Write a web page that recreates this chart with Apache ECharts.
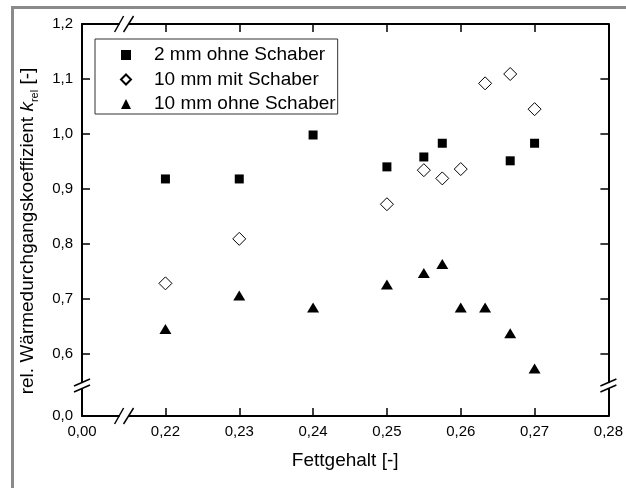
<!DOCTYPE html>
<html>
<head>
<meta charset="utf-8">
<script src="https://cdn.jsdelivr.net/npm/echarts@6/dist/echarts.min.js"></script>
<style>
  html, body { margin: 0; padding: 0; background: #fff; }
  #chart { width: 626px; height: 488px; }
</style>
</head>
<body>
<div id="chart"></div>
<script>
// broken axes: the lowest label (0,00 / 0,0) sits below the break
const XLOW = 0.2087, XBREAK = 0.2144;
const YLOW = 0.4866, YBREAK = 0.542;

const xTicks = [0.22, 0.23, 0.24, 0.25, 0.26, 0.27];
const xLabels = [XLOW, 0.22, 0.23, 0.24, 0.25, 0.26, 0.27, 0.28];
const yTicks = [0.6, 0.7, 0.8, 0.9, 1.0, 1.1];
const yLabels = [YLOW, 0.6, 0.7, 0.8, 0.9, 1.0, 1.1, 1.2];

const names = ['2 mm ohne Schaber', '10 mm mit Schaber', '10 mm ohne Schaber'];

const fett2ohne = [0.22, 0.23, 0.24, 0.25, 0.255, 0.2575, 0.2667, 0.27];
const k2ohne = [0.918, 0.918, 0.998, 0.940, 0.958, 0.983, 0.951, 0.983];

const fett10mit = [0.22, 0.23, 0.25, 0.255, 0.2575, 0.26, 0.2633, 0.2667, 0.27];
const k10mit = [0.728, 0.809, 0.872, 0.934, 0.919, 0.936, 1.092, 1.109, 1.045];

const fett10ohne = [0.22, 0.23, 0.24, 0.25, 0.255, 0.2575, 0.26, 0.2633, 0.2667, 0.27];
const k10ohne = [0.645, 0.706, 0.684, 0.726, 0.747, 0.763, 0.684, 0.684, 0.637, 0.573];

const FONT = 'Liberation Sans, Arial, sans-serif';

const zip = (xs, ys) => xs.map((x, i) => [x, ys[i]]);

function xLabel(v) {
    if (Math.abs(v - XLOW) < 1e-6) return '0,00';
    return v.toFixed(2).replace('.', ',');
}
function yLabel(v) {
    if (Math.abs(v - YLOW) < 1e-6) return '0,0';
    return v.toFixed(1).replace('.', ',');
}

function makeX(pos, showLabels) {
    return {
        type: 'value', position: pos, min: XLOW, max: 0.28,
        name: showLabels ? 'Fettgehalt [-]' : '',
        nameLocation: 'middle', nameGap: 35,
        nameTextStyle: { fontSize: 19, color: '#000', fontFamily: FONT },
        axisLine: { show: true, onZero: false, lineStyle: { color: '#000', width: 2 } },
        axisTick: { show: true, inside: true, length: 8, customValues: xTicks, lineStyle: { color: '#000', width: 1.5 } },
        axisLabel: { show: showLabels, customValues: xLabels, formatter: xLabel, margin: 8, fontSize: 15, color: '#000', fontFamily: FONT },
        splitLine: { show: false }
    };
}
function makeY(pos, showLabels) {
    return {
        type: 'value', position: pos, min: YLOW, max: 1.2,
        name: showLabels ? 'rel. Wärmedurchgangskoeffizient {k|k}{sub|rel} [-]' : '',
        nameLocation: 'middle', nameRotate: 90, nameGap: 42,
        nameTextStyle: {
            fontSize: 19, color: '#000', fontFamily: FONT, lineHeight: 24,
            padding: [0, 22, 0, 0],
            rich: {
                k: { fontSize: 19, fontStyle: 'italic', color: '#000', fontFamily: FONT, lineHeight: 24 },
                sub: { fontSize: 11, color: '#000', fontFamily: FONT, verticalAlign: 'bottom', lineHeight: 12 }
            }
        },
        axisLine: { show: true, onZero: false, lineStyle: { color: '#000', width: 2 } },
        axisTick: { show: true, inside: true, length: 8, customValues: yTicks, lineStyle: { color: '#000', width: 1.5 } },
        axisLabel: { show: showLabels, customValues: yLabels, formatter: yLabel, margin: 9, fontSize: 15, color: '#000', fontFamily: FONT },
        splitLine: { show: false }
    };
}

const chart = echarts.init(document.getElementById('chart'));

const option = {
    animation: false,
    backgroundColor: '#fff',
    grid: { left: 82, right: 13, top: 24, bottom: 72 },
    legend: {
        orient: 'vertical', left: 95, top: 39,
        data: names,
        padding: [6, 2, 0, 25],
        itemWidth: 10, itemHeight: 10, itemGap: 4.5,
        borderColor: '#333', borderWidth: 1, borderRadius: 0,
        textStyle: { fontSize: 19, color: '#000', fontFamily: FONT, lineHeight: 20, padding: [0, 0, 0, 18] }
    },
    xAxis: [makeX('bottom', true), makeX('top', false)],
    yAxis: [makeY('left', true), makeY('right', false)],
    series: [
        {
            name: names[0], type: 'scatter', symbol: 'rect', symbolSize: 9,
            itemStyle: { color: '#000', opacity: 1 },
            data: zip(fett2ohne, k2ohne)
        },
        {
            name: names[1], type: 'scatter', symbol: 'diamond', symbolSize: 13,
            itemStyle: { color: '#fff', borderColor: '#000', borderWidth: 1, opacity: 1 },
            data: zip(fett10mit, k10mit)
        },
        {
            name: names[2], type: 'scatter', symbol: 'triangle', symbolSize: [12, 10],
            itemStyle: { color: '#000', opacity: 1 },
            data: zip(fett10ohne, k10ohne)
        }
    ]
};

chart.setOption(option);

// break marks on the axes + grey frame
function breakMarksX(cx, cy) {
    return [
        { type: 'rect', shape: { x: cx - 4.5, y: cy - 2, width: 9, height: 4 }, style: { fill: '#fff' }, z: 10 },
        { type: 'line', shape: { x1: cx - 9.5, y1: cy + 8, x2: cx - 0.5, y2: cy - 8 }, style: { stroke: '#000', lineWidth: 1.5 }, z: 11 },
        { type: 'line', shape: { x1: cx - 0.5, y1: cy + 8, x2: cx + 9.5, y2: cy - 8 }, style: { stroke: '#000', lineWidth: 1.5 }, z: 11 }
    ];
}
function breakMarksY(cx, cy) {
    return [
        { type: 'rect', shape: { x: cx - 2, y: cy - 2.5, width: 4, height: 5 }, style: { fill: '#fff' }, z: 10 },
        { type: 'line', shape: { x1: cx - 8, y1: cy + 6.5, x2: cx + 8, y2: cy - 0.5 }, style: { stroke: '#000', lineWidth: 1.5 }, z: 11 },
        { type: 'line', shape: { x1: cx - 8, y1: cy + 0.5, x2: cx + 8, y2: cy - 6.5 }, style: { stroke: '#000', lineWidth: 1.5 }, z: 11 }
    ];
}

const bx = chart.convertToPixel({ xAxisIndex: 0 }, XBREAK);
const by = chart.convertToPixel({ yAxisIndex: 0 }, YBREAK);
const xLeft = chart.convertToPixel({ xAxisIndex: 0 }, XLOW);
const xRight = chart.convertToPixel({ xAxisIndex: 0 }, 0.28);
const yBottom = chart.convertToPixel({ yAxisIndex: 0 }, YLOW);
const yTop = chart.convertToPixel({ yAxisIndex: 0 }, 1.2);

chart.setOption({
    graphic: [
        { type: 'rect', shape: { x: 11, y: 6, width: 615, height: 3 }, style: { fill: '#8a8a8a' } },
        { type: 'rect', shape: { x: 11, y: 6, width: 3, height: 482 }, style: { fill: '#8a8a8a' } }
    ].concat(
        breakMarksX(bx, yBottom),
        breakMarksX(bx, yTop),
        breakMarksY(xLeft, by),
        breakMarksY(xRight, by)
    )
});
</script>
</body>
</html>
